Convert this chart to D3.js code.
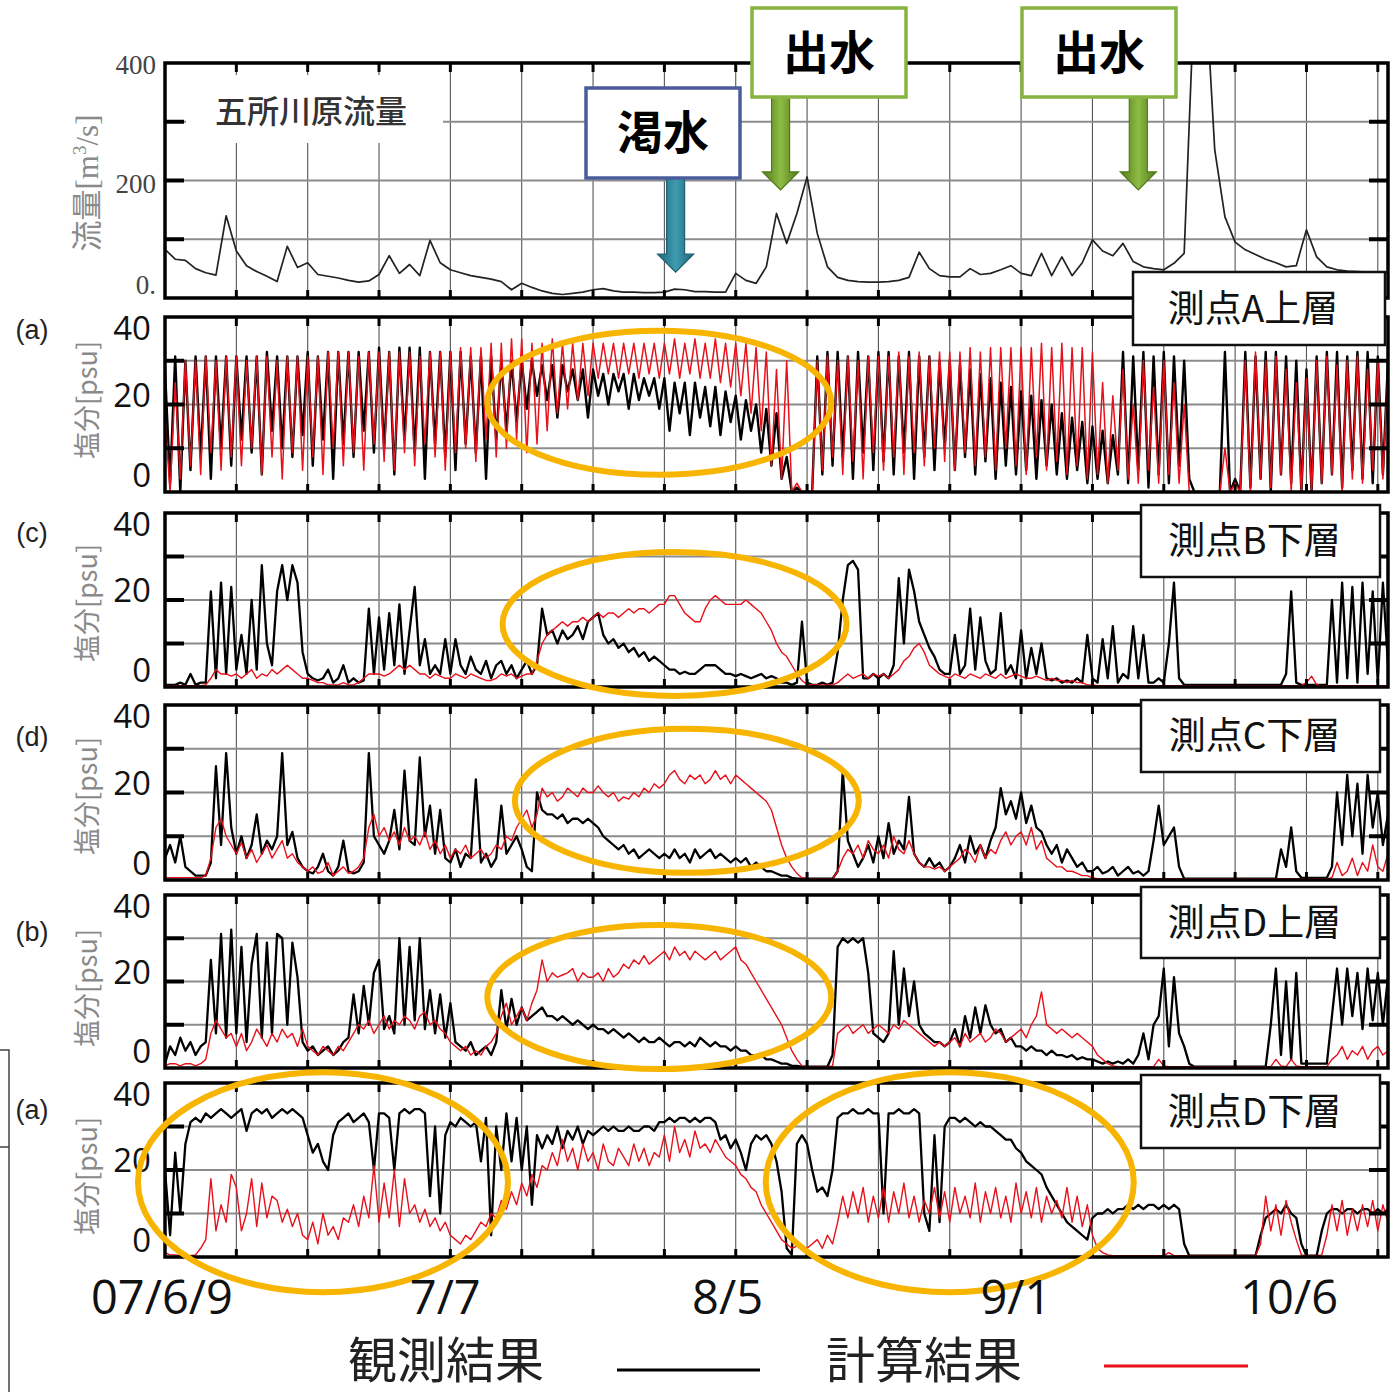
<!DOCTYPE html>
<html>
<head>
<meta charset="utf-8">
<script src="https://cdn.jsdelivr.net/npm/d3@7/dist/d3.min.js"></script>
<style>
  body { margin: 0; background: #fff; }
  svg { display: block; }
</style>
</head>
<body>
<script>
// x: days since 07/6/9, salinity series every half day, flow every day
const flowStep = 1;
const salStep = 0.5;

const flow = [
  83, 66, 64, 50, 43, 39, 140,
  80, 55, 45, 37, 28, 88, 52,
  60, 40, 37, 34, 30, 27, 29,
  40, 72, 42, 57, 38, 98, 60,
  48, 43, 38, 35, 32, 28, 14,
  25, 18, 12, 8, 6, 8, 10,
  14, 16, 12, 10, 10, 9, 9,
  10, 15, 14, 11, 11, 10, 10,
  42, 30, 25, 53, 144, 93, 144,
  206, 110, 53, 35, 30, 28, 27,
  27, 28, 30, 35, 78, 50, 38,
  36, 36, 50, 40, 42, 48, 55,
  42, 38, 76, 38, 70, 38, 60,
  99, 80, 72, 93, 62, 53, 50,
  48, 59, 76, 520, 560, 252, 138,
  95, 82, 74, 66, 60, 53, 55,
  116, 70, 53, 48, 46, 45, 44,
  44, 44
];

// 測点A上層
const aObs = [
  28,2,31,0,30,5,31,8,31,3,31,10,31,6,
  31,12,31,9,31,4,32,14,31,10,31,8,31,13,
  32,6,31,12,32,3,32,11,32,8,32,14,32,9,
  33,10,32,4,33,12,33,9,33,3,32,11,32,8,
  32,5,32,11,31,9,31,3,31,12,30,14,30,16,
  30,19,30,22,29,21,29,17,29,23,28,21,28,17,
  28,22,27,20,27,23,27,19,27,21,26,22,26,19,
  26,14,25,18,25,13,25,17,24,15,24,13,23,16,
  22,12,21,14,20,9,19,6,18,3,8,0,1,0,
  0,0,31,4,32,6,32,8,31,3,32,9,31,5,
  32,7,32,4,31,9,32,3,31,8,31,5,30,10,
  30,5,29,8,28,4,27,7,26,3,25,6,24,4,
  23,5,22,3,21,6,20,4,18,3,17,5,16,2,
  15,3,14,2,13,4,32,2,31,5,32,1,31,4,
  32,2,31,6,30,3,0,0,0,0,0,0,32,0,
  3,0,32,1,31,3,32,0,32,4,31,2,30,0,
  28,0,31,2,32,4,32,1,31,5,32,3,32,2,
  31,4,30
];
const aCalc = [
  17,0,25,3,30,6,30,4,31,9,30,5,31,8,
  31,6,30,10,31,4,31,8,30,3,31,9,31,5,
  31,8,31,4,32,10,32,6,32,9,31,5,32,11,
  32,7,32,5,32,9,32,6,31,11,32,8,32,5,
  32,9,33,10,33,7,33,12,34,8,34,10,35,12,
  35,9,34,11,34,14,35,18,34,19,34,21,34,22,
  34,26,34,27,34,26,34,27,34,26,34,27,34,26,
  34,27,35,26,34,27,35,26,34,26,35,25,34,24,
  34,22,34,18,33,14,32,6,28,3,30,0,2,0,
  0,0,30,5,31,8,30,4,31,7,30,3,31,9,
  31,5,31,8,32,4,31,9,32,6,31,10,32,7,
  32,5,32,9,33,6,32,8,33,5,33,10,33,6,
  33,4,33,8,34,5,33,7,34,4,33,6,33,3,
  32,4,25,2,22,5,28,3,20,2,30,5,24,2,
  30,4,25,2,20,0,0,0,0,0,0,0,10,0,
  2,0,30,0,32,3,30,1,31,4,28,0,25,0,
  26,0,30,2,31,4,29,0,30,3,31,2,28,5,
  30,3,28
];

// 測点B下層
const bObs = [
  0.5,0.5,0.5,1,0.5,3,0.5,1,1,22,2,24,3,23,
  4,12,3,20,4,28,10,5,22,28,20,28,24,8,
  3,2,1.5,2,4,1,2,5,1,2,1,1.5,18,3,
  16,4,17,5,19,3,13,23,5,11,3,5,3,11,
  3,11,5,3,7,4,3,6,2,5,6,3,5,2,
  4,6,3,5,18,12,13,10,13,11,12,14,11,15,
  16,17,12,10,11,9,10,8,9,7,8,6,7,6,
  5,4,4,3,3.5,3,3,4,5,5,5,4,3,3,
  2.5,3,2.5,2,2.5,3,2,2.5,2,1,1,0.5,1,15,
  1,0.5,0.5,1,0.5,1,8,20,28,29,27,2,2,3,
  2,3,2,5,25,10,27,22,15,12,9,7,4,3,
  3,12,3,5,18,4,16,6,3,4,17,3,5,2,
  13,2,9,3,10,2,1.5,2,1,1.5,1,2,1,12,
  2,1,11,2,14,1,3,2,14,2,12,1,1,2,
  1,10,24,2,0.5,0.5,0.5,0.5,0.5,0.5,0.5,0.5,0.5,0.5,
  0.5,0.5,0.5,0.5,0.5,0.5,0.5,0.5,0.5,0.5,3,22,1,0.5,
  0.5,0.5,0.5,0.5,0.5,20,1,24,2,23,1,24,3,22,
  1,24,5
];
const bCalc = [
  0.3,0.3,0.3,0.3,0.3,0.3,0.3,0.3,0.5,2,4,3,3,2.5,
  3,2,3,4,2,3,2.5,4,3,4,5,4,3,2,
  2,1.5,1,1,0.5,0.5,0.5,1,0.5,0.5,1,2,3,3,
  3,2.5,3,4,5,4,5,4,3,3,2,3,2.5,2,
  2,3,2.5,2,3,2.5,2,1.5,1.5,2,3,2.5,3,2,
  2.5,3,3,6,10,12,13,14,15,14,15,15,16,15,
  16,17,16,17,17,16,17,18,17,18,18,17,18,19,
  19,21,21,19,17,16,15,15,18,20,21,20,19,19,
  19,19,20,19,18,17,15,13,10,8,7,5,3,1.5,
  0.5,0.5,0.5,0.5,0.5,0.5,1,2,3,2,2.5,3,2,3,
  2.5,3,2,3,4,6,7,9,10,8,5,4,3,2.5,
  2,3,2.5,2,3,2.5,2,3,2.5,2,3,2,2.5,3,
  2.5,2,2,2.5,2,1.5,2,1.5,1.5,1,1.5,1,1,0.5,
  0.5,0.3,0.3,0.3,0.3,0.3,0.3,0.3,0.3,0.3,0.3,0.3,0.3,0.3,
  0.3,0.3,0.3,0.3,0.3,0.3,0.3,0.3,0.3,0.3,0.3,0.3,0.3,0.3,
  0.3,0.3,0.3,0.3,0.3,0.3,0.3,0.3,0.3,0.3,0.3,0.3,0.3,0.3,
  1,2.5,0.5,0.3,0.3,0.3,0.3,0.3,0.3,0.3,0.3,0.3,0.3,0.3,
  0.3,0.3,0.3
];

// 測点C下層
const cObs = [
  5,8,4,10,3,2,1,1,1,4,26,8,29,12,
  6,10,5,8,15,6,9,7,10,29,8,11,5,3,
  2,1.5,3,6,2,1,3,9,2,1.5,2,4,29,10,
  8,6,9,16,7,25,9,8,28,10,17,6,16,5,
  4,7,3,6,5,23,4,6,3,5,17,6,8,10,
  7,3,2,20,16,15,15,14,15,13,14,14,13,14,
  13,12,10,9,8,7,8,6,7,5,6,7,6,5,
  6,5,7,5,6,4,7,5,6,7,5,6,5,4,
  5,4,5,3,4,3,2,2,1.5,1,1,0.5,0.3,0.3,
  0.3,0.3,0.3,0.3,0.3,0.3,2,25,9,6,3,5,8,4,
  10,5,13,6,9,7,19,6,4,3,5,3,4,2,
  3,5,8,4,10,6,8,5,9,12,21,15,18,14,
  20,13,17,12,11,8,6,8,4,7,5,3,4,2,
  2,3,1.5,2,3,1,2,3,1.5,2,1,2,9,17,
  8,10,12,3,0.3,0.3,0.3,0.3,0.3,0.3,0.3,0.3,0.3,0.3,
  0.3,0.3,0.3,0.3,0.3,0.3,0.3,0.3,0.3,7,3,12,2,0.5,
  0.5,0.5,0.5,0.5,0.5,3,20,8,24,10,22,6,24,12,
  20,8,15
];
const cCalc = [
  0.5,0.5,0.5,0.5,0.5,0.5,0.5,0.5,1,5,12,14,10,8,
  6,8.5,5,7,4,6,8,5,7,9,5,6,4,3,
  2,3,1.5,2,4,1,2,3,1.5,2,3,5,12,15,
  10,12,9,11,8,12,9,10,8,11,7,9,6,8,
  5,7,6,8,5,6,7,5,6,8,7,10,9,12,
  14,16,12,15,21,19,20,18,19,21,20,19,21,20,
  20,21.5,20,19,20,18,19,18.5,20,19,21,20,22,21,
  22,24,25,23,22,24,23,24,22,23,25,23,24,22,
  24,23,22,21,20,19,18,16,12,8,5,3,1.5,0.5,
  0.3,0.3,0.3,0.3,0.3,0.3,2,5,7,6,8,5,9,7,
  6,8,5,10,7,6,9,6,4,3,3,2.5,3,2,
  3,4,5,7,6,4,8,5,7,6,9,11,8,10,
  11,8,12,7,9,5,4,3,3,2,2,1.5,1,1,
  0.5,0.3,0.3,0.3,0.3,0.3,0.3,0.3,0.3,0.3,0.3,0.3,0.3,0.3,
  0.3,0.3,0.3,0.3,0.3,0.3,0.3,0.3,0.3,0.3,0.3,0.3,0.3,0.3,
  0.3,0.3,0.3,0.3,0.3,0.3,0.3,0.3,0.3,0.3,0.3,0.3,0.3,0.3,
  0.3,0.3,0.3,0.3,0.3,0.5,4,1,2,5,1,4,2,8,
  3,2,6
];

// 測点D上層
const dUpObs = [
  1,5,3,7,4,6,3,5,6,25,8,31,7,32,
  8,28,6,24,31,7,29,8,31,30,10,29,21,6,
  4,5,3,4,5,3,4,6,7,17,8,19,10,22,
  25,9,12,8,30,10,28,11,30,9,18,8,17,7,
  15,6,5,4,6,3,4,5,3,6,18,9,16,10,
  14,11,12,13,14,12,12,11,12,11,10,11,10,9,
  10,9,9,8,9,8,7,8,7,6,7,6,6,7,
  6,5,6,6,5,6,5,7,6,5,6,5,5,4,
  5,4,4,3,3,3,2,2,1.5,1,1,0.5,0.5,0.3,
  0.3,0.3,0.3,0.3,0.3,3,28,30,29,30,29,30,22,8,
  7,6,8,27,10,23,12,20,10,8,7,6,6,5,
  6,9,5,12,7,14,8,14.5,10,8,9,6,7,5,
  5,4,5,4,4,3,4,3,3,2.5,3,2,2.5,2,
  2,1.5,1,1.5,1,1.5,1,2,1,3,8,2,10,12,
  23,5,21,8,5,1,0.3,0.3,0.3,0.3,0.3,0.3,0.3,0.3,
  0.3,0.3,0.3,0.3,0.3,0.3,0.3,10,23,3,20,2,22,1,
  1,1,1,1,1,12,23,10,23,12,22,9,23,11,
  22,10,21
];
const dUpCalc = [
  0.5,1,1,0.5,1,1,0.5,1,2,8,11,9,7,8,
  5,8,4,6,9,7,5,8,6,9,7,8,5,9,
  5,4,3,5,4,3,5,4,6,8,10,9,11,8,
  10,12,9,11,10,12,11,9,12,13,10,11,9,8,
  6,5,4,5,3,4,3,5,6,8,12,15,10,12,
  14,11,15,18,25,20,22,21,21.5,22,23,20,22,21,
  21,22,20,23,21,22,24,23,25,24,26,24,25,26,
  27,25,28,26,27,25,27,26,25,26,27,25,26,27,
  28,25,24,22,20,18,16,14,12,10,7,4,2,0.5,
  0.3,0.3,0.3,0.3,0.3,0.5,8,9,10,8,9,10,8,9,
  10,9,8,10,9,11,10,9,8,7,6,5,6,5,
  6,7,5,8,6,7,8,6,7,9,8,6,7,8,
  9,7,10,12,17.6,10,9,8,9,8,7,8,7,6,
  5,3,2,1,0.5,0.3,0.3,0.3,0.3,0.3,0.3,0.3,0.3,2,
  0.5,0.3,0.3,0.3,0.3,0.3,0.3,0.3,0.3,0.3,0.3,0.3,0.3,0.3,
  0.3,0.3,0.3,0.3,0.3,0.3,0.3,0.3,2,0.5,0.3,2,0.5,0.3,
  0.3,0.3,0.3,0.3,0.3,2,3,5,2,4,3,5,2,4,
  5,3,4
];

// 測点D下層
const dLowObs = [
  20,5,24,10,26,31,32,31,33,32,33,34,33,32,
  33,34,29,33,34,33,34,32,33,34,33,34,33,32,
  28,24,26,22,20,28,31,32,33,31,32,33,31,20,
  33,33,32,20,33,34,33,34,34,33,14,30,10,28,
  31,30,32,31,30,31,22,32,5,30,20,33,22,32,
  20,30,12,28,25,28,26,30,25,29,27,30,26,29,
  28,29,30,29,30,29,29,30,29,29,30,30,29,31,
  31,32,31,32,32,31,32,31,32,32,31,27,28,25,
  27,24,20,26,28,27,28,26,22,15,2,0.5,26,28,
  26,20,15,16,14,20,32,33,33,34,33,33,34,33,
  33,10,33,33,34,33,33,34,33,10,6,28,8,30,
  32,32,31,32,31,30,31,30,30,29,28,27,27,25,
  24,22,21,20,19,16,14,12,10,8,7,6,5,4,
  9,10,10,11,10,11,11,12,11,12,11,12,12,11,
  12,11,12,11,3,0.3,0.3,0.3,0.3,0.3,0.3,0.3,0.3,0.3,
  0.3,0.3,0.3,0.3,0.3,5,9,10,11,10,12,10,9,3,
  0.3,0.3,0.3,6,10,11,11,10,11,11,10,11,11,10,
  11,10,11
];
const dLowCalc = [
  1,0.5,0.5,0.3,0.5,0.3,0.5,2,4,18,6,12,8,19,
  16,6,10,18,7,17,9,14,13,8,11,7,10,5,
  4,8,3,10,5,7,4,9,8,12,7,14,9,21,
  8,17,9,20,7,18,10,12,8,11,7,9,6,8,
  5,4,3,5,4,6,8,7,10,9,13,11,15,12,
  17,14,19,16,21,20,24,21,27,22,25,20,26,22,
  24,20,26,22,21,25,23,21,26,22,25,21,24,23,
  28,22,30,24,27,23,29,25,26,24,27,25,23,22,
  21,19,18,16,15,12,10,8,6,4,3,2,2.5,2,
  2,3,4,2,5,3,8,14,9,15,10,16,8,14,
  9,16,8,15,10,17,9,14,8,13,10,16,9,15,
  8,16,10,14,9,17,8,15,10,16,9,14,8,17,
  10,15,9,16,8,14,10,13,9,16,8,14,7,12,
  5,2,1,0.5,0.3,0.3,0.3,0.3,0.3,0.3,0.3,0.3,0.3,0.3,
  0.3,1,0.3,0.3,0.3,0.3,0.3,0.3,0.3,0.3,0.3,0.3,0.3,0.3,
  0.3,0.3,0.3,0.3,0.3,3,14,6,12,5,13,8,4,0.5,
  0.3,0.3,0.3,0.5,5,12,6,13,5,11,6,12,7,13,
  6,12,8
];

const xLabelDays = [-0.3, 27.5, 55.2, 83.5, 110.3];
const xLabels = ["07/6/9", "7/7", "8/5", "9/1", "10/6"];
const flowTicks = [0, 200, 400];
const flowTickLabels = ["0.", "200", "400"];
const salTicks = [0, 20, 40];
const panelLetters = ["(a)", "(c)", "(d)", "(b)", "(a)"];
const stationNames = ["測点A上層", "測点B下層", "測点C下層", "測点D上層", "測点D下層"];

const CJK = "'Noto Sans CJK JP', 'Noto Sans', sans-serif";
const SANS = "'Open Sans', 'Noto Sans', sans-serif";

const svg = d3.select("body").append("svg")
  .attr("width", 1394)
  .attr("height", 1392);

const x = d3.scaleLinear().domain([0, 120]).range([165, 1388]);
const weekDays = d3.range(7, 120, 7);

const panels = [
  { id: "flow", top: 63, bottom: 298, max: 400, grid: [100, 200, 300],
    series: [{ v: flow, step: flowStep, color: "#222", w: 1.7 }] },
  { id: "a", top: 317, bottom: 492, max: 40, grid: [10, 20, 30],
    series: [{ v: aObs, step: salStep, color: "#000", w: 2.4 }, { v: aCalc, step: salStep, color: "#e8101a", w: 1.5 }],
    title: 400, letterY: 330, box: [1133, 272, 252, 73] },
  { id: "b", top: 513, bottom: 687, max: 40, grid: [10, 20, 30],
    series: [{ v: bObs, step: salStep, color: "#000", w: 2.3 }, { v: bCalc, step: salStep, color: "#e8101a", w: 1.4 }],
    title: 603, letterY: 533, box: [1141, 505, 239, 72] },
  { id: "c", top: 705, bottom: 880, max: 40, grid: [10, 20, 30],
    series: [{ v: cObs, step: salStep, color: "#000", w: 2.3 }, { v: cCalc, step: salStep, color: "#e8101a", w: 1.4 }],
    title: 796, letterY: 737, box: [1141, 700, 239, 72] },
  { id: "du", top: 895, bottom: 1068, max: 40, grid: [10, 20, 30],
    series: [{ v: dUpObs, step: salStep, color: "#000", w: 2.3 }, { v: dUpCalc, step: salStep, color: "#e8101a", w: 1.4 }],
    title: 988, letterY: 932, box: [1141, 887, 239, 71] },
  { id: "dl", top: 1083, bottom: 1257, max: 40, grid: [10, 20, 30],
    series: [{ v: dLowObs, step: salStep, color: "#000", w: 2.3 }, { v: dLowCalc, step: salStep, color: "#e8101a", w: 1.4 }],
    title: 1176, letterY: 1110, box: [1141, 1075, 239, 73] }
];

const defs = svg.append("defs");

panels.forEach(function (p, pi) {
  p.y = d3.scaleLinear().domain([0, p.max]).range([p.bottom, p.top]);
  const g = svg.append("g");

  defs.append("clipPath").attr("id", "clip-" + p.id)
    .append("rect")
    .attr("x", x(0)).attr("y", p.top)
    .attr("width", x(120) - x(0)).attr("height", p.bottom - p.top);

  g.selectAll(".vg").data(weekDays).enter().append("line")
    .attr("x1", function (d) { return x(d); })
    .attr("x2", function (d) { return x(d); })
    .attr("y1", p.top).attr("y2", p.bottom)
    .attr("stroke", "#555").attr("stroke-width", 1.1);

  g.selectAll(".hg").data(p.grid).enter().append("line")
    .attr("x1", x(0)).attr("x2", x(120))
    .attr("y1", function (d) { return p.y(d); })
    .attr("y2", function (d) { return p.y(d); })
    .attr("stroke", "#8c8c8c").attr("stroke-width", 2.2);

  if (p.id === "flow") {
    g.append("rect").attr("x", 186).attr("y", 75).attr("width", 257).attr("height", 68)
      .attr("fill", "#fff");
    g.append("text").attr("x", 311).attr("y", 123)
      .attr("text-anchor", "middle")
      .style("font-family", CJK).style("font-size", "32px").style("font-weight", "500")
      .attr("fill", "#333")
      .text("五所川原流量");
  }

  const lines = g.append("g").attr("clip-path", "url(#clip-" + p.id + ")");
  p.series.forEach(function (s) {
    lines.append("path")
      .datum(s.v)
      .attr("fill", "none")
      .attr("stroke", s.color)
      .attr("stroke-width", s.w)
      .attr("stroke-linejoin", "round")
      .attr("d", d3.line()
        .x(function (d, i) { return x(i * s.step); })
        .y(function (d) { return p.y(d); }));
  });

  // ticks along the frame
  g.selectAll(".tt").data(weekDays).enter().append("line")
    .attr("x1", function (d) { return x(d); }).attr("x2", function (d) { return x(d); })
    .attr("y1", p.top).attr("y2", p.top + 9)
    .attr("stroke", "#000").attr("stroke-width", 3);
  g.selectAll(".tb").data(weekDays).enter().append("line")
    .attr("x1", function (d) { return x(d); }).attr("x2", function (d) { return x(d); })
    .attr("y1", p.bottom - 8).attr("y2", p.bottom)
    .attr("stroke", "#000").attr("stroke-width", 3);
  g.selectAll(".tl").data(p.grid).enter().append("line")
    .attr("x1", x(0)).attr("x2", x(0) + 19)
    .attr("y1", function (d) { return p.y(d); }).attr("y2", function (d) { return p.y(d); })
    .attr("stroke", "#000").attr("stroke-width", 4);
  g.selectAll(".tr").data(p.grid).enter().append("line")
    .attr("x1", x(120) - 19).attr("x2", x(120))
    .attr("y1", function (d) { return p.y(d); }).attr("y2", function (d) { return p.y(d); })
    .attr("stroke", "#000").attr("stroke-width", 4);

  g.append("rect")
    .attr("x", x(0)).attr("y", p.top)
    .attr("width", x(120) - x(0)).attr("height", p.bottom - p.top)
    .attr("fill", "none").attr("stroke", "#000").attr("stroke-width", 3.5);

  if (p.id === "flow") {
    g.selectAll(".yl").data(flowTicks).enter().append("text")
      .attr("x", 156)
      .attr("y", function (d, i) { return p.y(d) + [-4, 12, 11][i]; })
      .attr("text-anchor", "end")
      .style("font-family", "'Liberation Serif', serif").style("font-size", "27px")
      .attr("fill", "#444")
      .text(function (d, i) { return flowTickLabels[i]; });
    const t = g.append("text")
      .attr("transform", "translate(98,183) rotate(-90)")
      .attr("text-anchor", "middle")
      .style("font-family", "'Liberation Serif', " + CJK).style("font-size", "31px")
      .attr("fill", "#8a8a8a");
    t.append("tspan").text("流量[m");
    t.append("tspan").attr("dy", -12).style("font-size", "19px").text("3");
    t.append("tspan").attr("dy", 12).text("/s]");
  } else {
    g.selectAll(".yl").data(salTicks).enter().append("text")
      .attr("x", 151)
      .attr("y", function (d, i) { return p.y(d) + [-5, 2, 23][i]; })
      .attr("text-anchor", "end")
      .style("font-family", SANS).style("font-size", "33px")
      .attr("fill", "#111")
      .text(function (d) { return d; });
    g.append("text")
      .attr("transform", "translate(97," + p.title + ") rotate(-90)")
      .attr("text-anchor", "middle")
      .style("font-family", CJK).style("font-size", "27px")
      .attr("fill", "#8a8a8a")
      .text("塩分[psu]");
    g.append("text")
      .attr("x", 32).attr("y", p.letterY + 9)
      .attr("text-anchor", "middle")
      .style("font-family", "'Liberation Sans', sans-serif").style("font-size", "27px")
      .attr("fill", "#222")
      .text(panelLetters[pi - 1]);
  }
});

// station label boxes
panels.slice(1).forEach(function (p, i) {
  const b = p.box;
  svg.append("rect")
    .attr("x", b[0]).attr("y", b[1]).attr("width", b[2]).attr("height", b[3])
    .attr("fill", "#fff").attr("stroke", "#111").attr("stroke-width", 2.5);
  svg.append("text")
    .attr("x", b[0] + b[2] / 2 - 6).attr("y", b[1] + b[3] / 2 + 13)
    .attr("text-anchor", "middle")
    .style("font-family", CJK).style("font-size", "37px").attr("fill", "#111")
    .text(stationNames[i]);
});

// orange highlight ellipses (panel index, centre day, centre value, radii in px)
const rings = [
  { p: 1, day: 48.5, val: 20.4, rx: 172, ry: 72 },
  { p: 2, day: 50.0, val: 14.5, rx: 172, ry: 72 },
  { p: 3, day: 51.2, val: 18.1, rx: 172, ry: 72 },
  { p: 4, day: 48.5, val: 16.4, rx: 172, ry: 72 },
  { p: 5, day: 15.5, val: 17.2, rx: 185, ry: 110 },
  { p: 5, day: 77.0, val: 17.2, rx: 184, ry: 110 }
];
svg.append("g").selectAll("ellipse").data(rings).enter().append("ellipse")
  .attr("cx", function (d) { return x(d.day); })
  .attr("cy", function (d) { return panels[d.p].y(d.val); })
  .attr("rx", function (d) { return d.rx; })
  .attr("ry", function (d) { return d.ry; })
  .attr("fill", "none").attr("stroke", "#f7b400").attr("stroke-width", 6);

// event call-outs over the flow panel
const callouts = [
  { id: "dry", text: "渇水", day: 50.1, tip: 44, box: [586, 88, 154, 90], c: ["#1f6677", "#3f9bb0"], edge: "#1e5e70", border: "#4a5c9c" },
  { id: "fl1", text: "出水", day: 60.4, tip: 184, box: [752, 8, 154, 89], c: ["#527c1a", "#8dbb43"], edge: "#4e7818", border: "#86b440" },
  { id: "fl2", text: "出水", day: 95.5, tip: 184, box: [1022, 8, 154, 89], c: ["#527c1a", "#8dbb43"], edge: "#4e7818", border: "#86b440" }
];
const fy = panels[0].y;
callouts.forEach(function (c) {
  const cx = x(c.day), y0 = c.box[1] + c.box[3], y1 = fy(c.tip);
  const head = 18;
  const grad = defs.append("linearGradient").attr("id", "g-" + c.id)
    .attr("x1", 0).attr("x2", 1).attr("y1", 0).attr("y2", 0);
  grad.append("stop").attr("offset", "0%").attr("stop-color", c.c[0]);
  grad.append("stop").attr("offset", "50%").attr("stop-color", c.c[1]);
  grad.append("stop").attr("offset", "100%").attr("stop-color", c.c[0]);
  svg.append("path")
    .attr("d", "M" + (cx - 9) + "," + y0 + "V" + (y1 - head) + "H" + (cx - 18) +
      "L" + cx + "," + y1 + "L" + (cx + 18) + "," + (y1 - head) + "H" + (cx + 9) + "V" + y0 + "Z")
    .attr("fill", "url(#g-" + c.id + ")").attr("stroke", c.edge).attr("stroke-width", 1.2);
  svg.append("rect")
    .attr("x", c.box[0]).attr("y", c.box[1]).attr("width", c.box[2]).attr("height", c.box[3])
    .attr("fill", "#fff").attr("stroke", c.border).attr("stroke-width", 3.5);
  svg.append("text")
    .attr("x", c.box[0] + c.box[2] / 2).attr("y", c.box[1] + c.box[3] / 2 + 16)
    .attr("text-anchor", "middle")
    .style("font-family", CJK).style("font-size", "46px").style("font-weight", "bold")
    .attr("fill", "#000")
    .text(c.text);
});

// date labels
svg.append("g").selectAll("text").data(xLabelDays).enter().append("text")
  .attr("x", function (d) { return x(d); })
  .attr("y", 1314)
  .attr("text-anchor", "middle")
  .style("font-family", SANS).style("font-size", "47px").attr("fill", "#111")
  .text(function (d, i) { return xLabels[i]; });

// legend
svg.append("text").attr("x", 348).attr("y", 1378)
  .style("font-family", CJK).style("font-size", "49px").attr("fill", "#222").text("観測結果");
svg.append("line").attr("x1", 617).attr("x2", 760).attr("y1", 1370).attr("y2", 1370)
  .attr("stroke", "#000").attr("stroke-width", 3);
svg.append("text").attr("x", 826).attr("y", 1378)
  .style("font-family", CJK).style("font-size", "49px").attr("fill", "#222").text("計算結果");
svg.append("line").attr("x1", 1104).attr("x2", 1248).attr("y1", 1366).attr("y2", 1366)
  .attr("stroke", "#e8101a").attr("stroke-width", 3);

// stray frame at the left edge of the original slide
svg.append("path")
  .attr("d", "M0,1050H9V1392M0,1147H9")
  .attr("fill", "none").attr("stroke", "#444").attr("stroke-width", 1.5);
</script>
</body>
</html>
